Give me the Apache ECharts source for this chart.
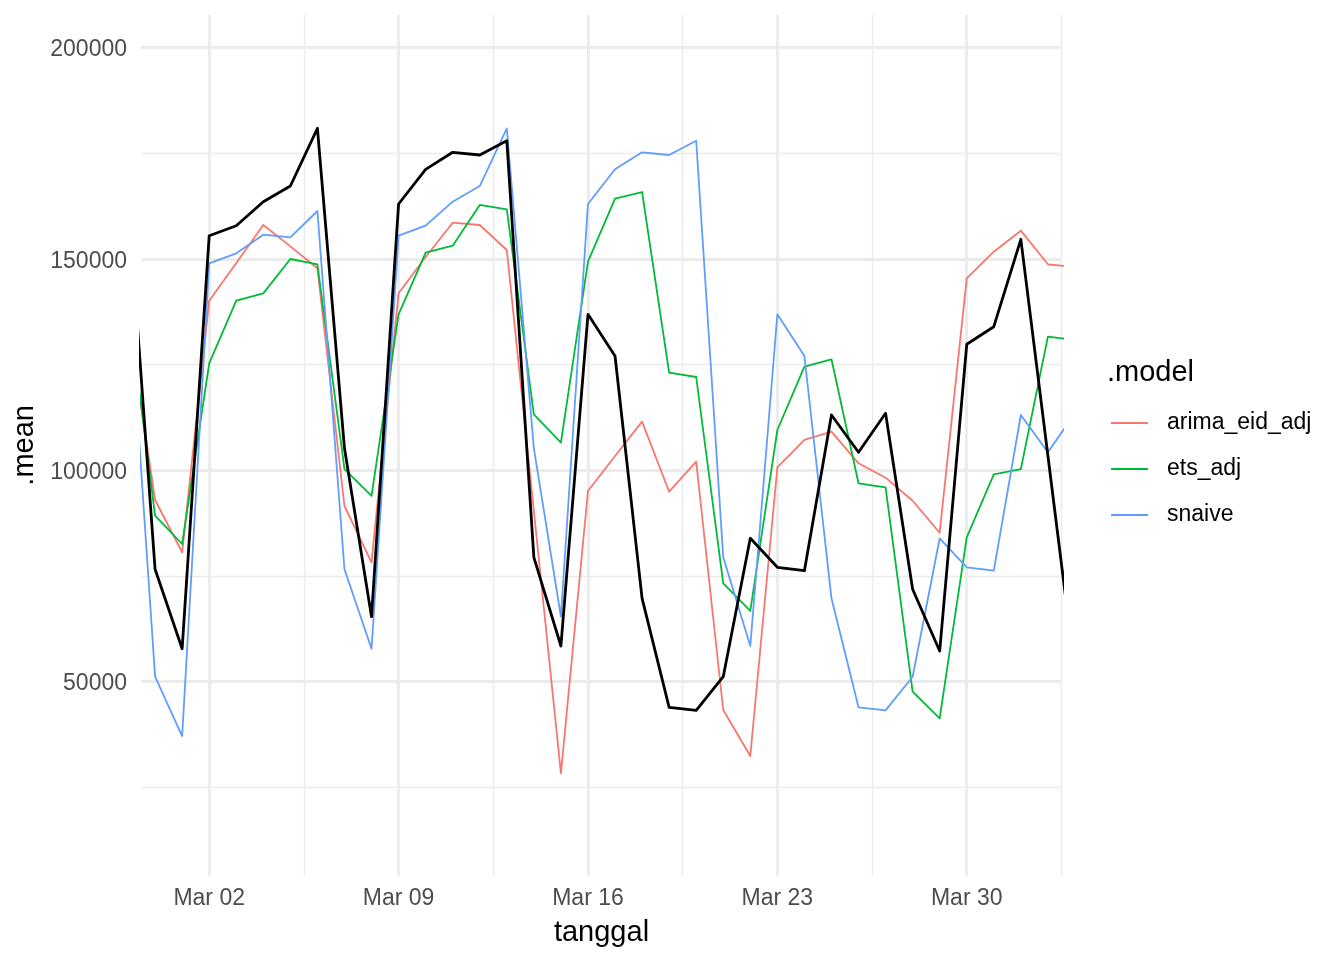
<!DOCTYPE html>
<html>
<head>
<meta charset="utf-8">
<script src="https://cdn.jsdelivr.net/npm/echarts@6/dist/echarts.min.js"></script>
<style>
html,body{margin:0;padding:0;background:#ffffff;}
#chart{width:1344px;height:960px;}
</style>
</head>
<body>
<div id="chart"></div>
<script>
// ---- data ----
const dates = [
  '2025-02-27','2025-02-28','2025-03-01','2025-03-02','2025-03-03','2025-03-04','2025-03-05',
  '2025-03-06','2025-03-07','2025-03-08','2025-03-09','2025-03-10','2025-03-11','2025-03-12',
  '2025-03-13','2025-03-14','2025-03-15','2025-03-16','2025-03-17','2025-03-18','2025-03-19',
  '2025-03-20','2025-03-21','2025-03-22','2025-03-23','2025-03-24','2025-03-25','2025-03-26',
  '2025-03-27','2025-03-28','2025-03-29','2025-03-30','2025-03-31','2025-04-01','2025-04-02',
  '2025-04-03'
];
const actual = [
  165000, 76550, 57770, 155480, 157850, 163530, 167240,
  180890, 105180, 65340, 162980, 171190, 175220, 174580,
  177960, 79390, 58410, 136890, 127020, 69690, 43900,
  43190, 51140, 83890, 77030, 76220, 113060, 104240,
  113460, 71820, 57220, 129790, 133950, 154630, 103430,
  52250
];
const arimaEidAdj = [
  136000, 92950, 80580, 140100, 149020, 158010, 152950,
  147770, 91530, 78210, 141850, 150440, 158560, 158010,
  152100, 90350, 28290, 95080, 103360, 111480, 94910,
  102010, 43260, 32380, 100690, 107150, 109110, 101630,
  98230, 92780, 85210, 145400, 151700, 156670, 148720,
  148080
];
const etsAdj = [
  140000, 89230, 82540, 125290, 140100, 141850, 149970,
  148720, 100280, 93900, 136890, 151460, 153120, 162750,
  161730, 113230, 106550, 149330, 164240, 165820, 123070,
  122050, 73240, 66690, 109510, 124490, 126240, 96900,
  95950, 47590, 41300, 84120, 99030, 100280, 131590,
  130810
];
const snaive = [
  146000, 51140, 37110, 148950, 151320, 155720, 155100,
  161330, 76550, 57770, 155480, 157850, 163530, 167240,
  180890, 105180, 65340, 162980, 171190, 175220, 174580,
  177960, 79390, 58410, 136890, 127020, 69690, 43900,
  43190, 51140, 83890, 77030, 76220, 113060, 104240,
  113460
];
const modelNames = ['arima_eid_adj', 'ets_adj', 'snaive'];
const xTickDates = ['2025-03-02','2025-03-09','2025-03-16','2025-03-23','2025-03-30'];
const xTickLabels = ['Mar 02','Mar 09','Mar 16','Mar 23','Mar 30'];
const xMinorDates = ['2025-03-05 12:00','2025-03-12 12:00','2025-03-19 12:00','2025-03-26 12:00','2025-04-02 12:00'];
const xRange = ['2025-02-27 11:30', '2025-04-02 12:30'];
const yTicks = [50000, 100000, 150000, 200000];
const yTickLabels = ['50000', '100000', '150000', '200000'];
const yMinorTicks = [25000, 75000, 125000, 175000];
const yRange = [4060, 207700];

// ---- helpers ----
function ts(s) {
  const parts = s.split(' ');
  const d = parts[0].split('-').map(Number);
  let h = 0, mi = 0;
  if (parts[1]) { const t = parts[1].split(':').map(Number); h = t[0]; mi = t[1]; }
  return Date.UTC(d[0], d[1] - 1, d[2], h, mi);
}
function pairs(vals) { return dates.map((d, i) => [ts(d), vals[i]]); }

const FONT = '"Liberation Sans", Arial, Helvetica, sans-serif';
const GRID_COL = '#EBEBEB';
const xTickTs = xTickDates.map(ts);
const xMinorTs = xMinorDates.map(ts);

const chart = echarts.init(document.getElementById('chart'), null, {renderer: 'canvas'});
chart.setOption({
  animation: false,
  backgroundColor: '#ffffff',
  textStyle: {fontFamily: FONT},
  title: {
    text: '.model', left: 1107, top: 358, padding: 0,
    textStyle: {fontSize: 29, fontWeight: 'normal', color: '#000000', fontFamily: FONT}
  },
  legend: {
    data: modelNames,
    orient: 'vertical',
    icon: 'rect',
    left: 1111, top: 411, padding: 0,
    itemWidth: 37, itemHeight: 2, itemGap: 22,
    textStyle: {fontSize: 23, lineHeight: 24, color: '#000000', fontFamily: FONT, padding: [0, 0, 0, 14]}
  },
  grid: {left: 141, right: 282, top: 15, bottom: 84.3},
  xAxis: [{
    type: 'value',
    min: ts(xRange[0]), max: ts(xRange[1]),
    axisLine: {show: false},
    axisTick: {show: false, customValues: xTickTs},
    axisLabel: {
      customValues: xTickTs,
      fontSize: 23, color: '#4D4D4D', margin: 11, fontFamily: FONT,
      formatter: function (v) {
        for (let i = 0; i < xTickTs.length; i++) {
          if (Math.abs(v - xTickTs[i]) < 3600000 * 2) return xTickLabels[i];
        }
        return '';
      }
    },
    splitLine: {show: true, lineStyle: {color: GRID_COL, width: 2.8}},
    name: 'tanggal', nameLocation: 'middle', nameGap: 43,
    nameTextStyle: {fontSize: 29, color: '#000000', fontFamily: FONT}
  }, {
    type: 'value',
    position: 'top',
    min: ts(xRange[0]), max: ts(xRange[1]),
    axisLine: {show: false},
    axisTick: {show: false, customValues: xMinorTs},
    axisLabel: {show: false, customValues: xMinorTs},
    splitLine: {show: true, lineStyle: {color: GRID_COL, width: 1.4}}
  }],
  yAxis: [{
    type: 'value',
    min: yRange[0], max: yRange[1],
    axisLine: {show: false},
    axisTick: {show: false, customValues: yTicks},
    axisLabel: {
      customValues: yTicks,
      fontSize: 23, color: '#4D4D4D', margin: 14, fontFamily: FONT,
      formatter: function (v) {
        const i = yTicks.indexOf(v);
        return i >= 0 ? '{v|' + yTickLabels[i] + '}' : '';
      },
      rich: {
        v: {fontSize: 23, color: '#4D4D4D', fontFamily: FONT, padding: [5, 0, 0, 0]}
      }
    },
    splitLine: {show: true, lineStyle: {color: GRID_COL, width: 2.8}},
    name: '.mean', nameLocation: 'middle', nameGap: 96, nameRotate: 90,
    nameTextStyle: {fontSize: 29, color: '#000000', fontFamily: FONT}
  }, {
    type: 'value',
    position: 'right',
    min: yRange[0], max: yRange[1],
    axisLine: {show: false},
    axisTick: {show: false, customValues: yMinorTicks},
    axisLabel: {show: false, customValues: yMinorTicks},
    splitLine: {show: true, lineStyle: {color: GRID_COL, width: 1.4}}
  }],
  series: [{
    name: modelNames[0], type: 'line', data: pairs(arimaEidAdj),
    symbol: 'none', z: 3,
    lineStyle: {color: '#F8766D', width: 1.8, join: 'round'}, itemStyle: {color: '#F8766D'}
  }, {
    name: modelNames[1], type: 'line', data: pairs(etsAdj),
    symbol: 'none', z: 3,
    lineStyle: {color: '#00BA38', width: 1.8, join: 'round'}, itemStyle: {color: '#00BA38'}
  }, {
    name: modelNames[2], type: 'line', data: pairs(snaive),
    symbol: 'none', z: 3,
    lineStyle: {color: '#619CFF', width: 1.8, join: 'round'}, itemStyle: {color: '#619CFF'}
  }, {
    name: 'actual', type: 'line', data: pairs(actual),
    symbol: 'none', z: 4,
    lineStyle: {color: '#000000', width: 2.8, join: 'round'}, itemStyle: {color: '#000000'}
  }]
});
</script>
</body>
</html>
